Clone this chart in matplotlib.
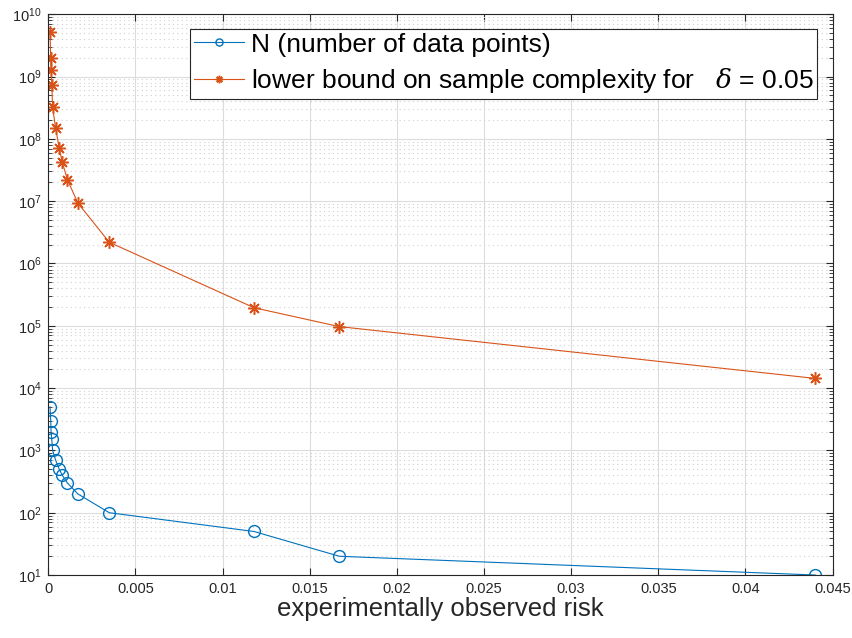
import numpy as np
import matplotlib
matplotlib.use("Agg")
import matplotlib.pyplot as plt
from matplotlib.ticker import LogLocator, LogFormatterMathtext, NullFormatter

plt.rcParams["font.family"] = ["Liberation Sans", "DejaVu Sans"]
plt.rcParams["mathtext.fontset"] = "custom"
plt.rcParams["mathtext.rm"] = "Liberation Sans"
plt.rcParams["mathtext.it"] = "DejaVu Serif:italic"

# Data
risk = [0.0001, 0.00014, 0.00016, 0.0002, 0.00025, 0.00042, 0.00063,
        0.0008, 0.0011, 0.0017, 0.0035, 0.0118, 0.0167, 0.0440]
n_points = [5000, 3000, 2000, 1500, 1000, 700, 500, 400, 300, 200, 100, 50, 20, 10]
lower_bound = [5.1e9, 1.95e9, 1.28e9, 7.4e8, 3.2e8, 1.48e8, 7.1e7,
               4.25e7, 2.2e7, 9.3e6, 2.19e6, 1.95e5, 9.7e4, 1.43e4]
xticks = [0, 0.005, 0.01, 0.015, 0.02, 0.025, 0.03, 0.035, 0.04, 0.045]
xtick_labels = ["0", "0.005", "0.01", "0.015", "0.02", "0.025",
                "0.03", "0.035", "0.04", "0.045"]

blue = (0, 0.447, 0.741)
red = (0.85, 0.325, 0.098)

fig = plt.figure(figsize=(8.53, 6.38), dpi=100)
ax = fig.add_axes([0.0566, 0.0987, 0.9195, 0.879])

ax.semilogy(risk, n_points, "-o", color=blue, linewidth=0.8,
            markersize=8.5, markerfacecolor="none", markeredgewidth=1.0,
            label="N (number of data points)")
ax.semilogy(risk, lower_bound, "-", marker=(8, 2, 0), color=red, linewidth=0.8,
            markersize=9, markeredgewidth=1.1,
            label=r"lower bound on sample complexity for   $\delta$ = 0.05")

ax.set_xlim(0, 0.045)
ax.set_ylim(1e1, 1e10)
ax.set_xticks(xticks, xtick_labels)
ax.yaxis.set_major_locator(LogLocator(base=10, numticks=20))
ax.yaxis.set_major_formatter(LogFormatterMathtext())
ax.yaxis.set_minor_locator(LogLocator(base=10, subs=np.arange(2, 10), numticks=100))
ax.yaxis.set_minor_formatter(NullFormatter())

ax.grid(which="major", color="#dcdcdc", linestyle="-", linewidth=0.8)
ax.grid(which="minor", axis="y", color="#d0d0d0", linestyle=(0, (1, 3)), linewidth=0.8)
ax.set_axisbelow(True)

ax.tick_params(which="both", direction="in", top=True, right=True,
               labelsize=10.5, colors="#262626", pad=5)
ax.tick_params(which="major", length=5)
ax.tick_params(which="minor", length=3)
for s in ax.spines.values():
    s.set_color("#262626")
    s.set_linewidth(0.8)

ax.set_xlabel("experimentally observed risk", fontsize=18.5, color="#262626", labelpad=1)

leg = ax.legend(loc="upper left", bbox_to_anchor=(0.1806, 0.9742), fontsize=19,
                frameon=True, fancybox=False, framealpha=1, edgecolor="#262626",
                borderpad=0.15, handlelength=1.9, handletextpad=0.25,
                labelspacing=0.35, borderaxespad=0, markerscale=0.6)
leg.get_frame().set_linewidth(0.8)

fig.savefig("out.png", dpi=100)
